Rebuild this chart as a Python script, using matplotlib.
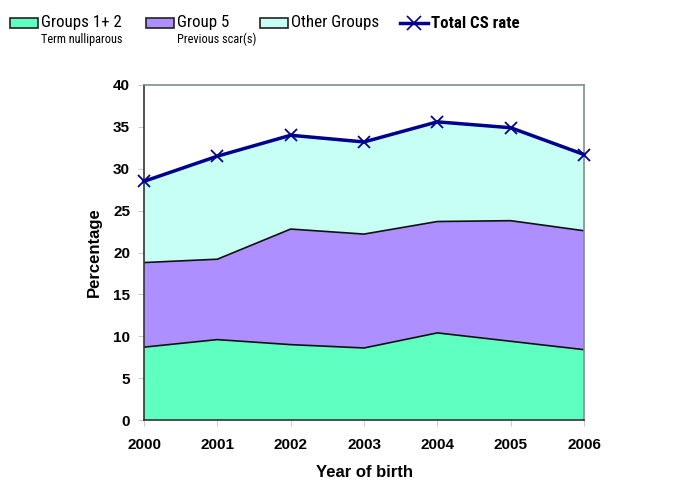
import matplotlib
matplotlib.use("Agg")
import matplotlib.pyplot as plt
from matplotlib.patches import Rectangle
from matplotlib.lines import Line2D
import numpy as np

plt.rcParams['font.family'] = ['Liberation Sans', 'DejaVu Sans']
NARROW = ['Roboto Condensed', 'Roboto', 'Liberation Sans', 'DejaVu Sans']

years = [2000, 2001, 2002, 2003, 2004, 2005, 2006]
groups_1_2 = [8.7, 9.6, 9.0, 8.6, 10.4, 9.4, 8.4]
group5_top = [18.8, 19.2, 22.8, 22.2, 23.7, 23.8, 22.6]
total_cs = [28.5, 31.5, 34.0, 33.2, 35.6, 34.9, 31.7]

group5 = list(np.array(group5_top) - np.array(groups_1_2))
other = list(np.array(total_cs) - np.array(group5_top))

c_g12 = '#5effc0'
c_g5 = '#ae8fff'
c_oth = '#c8fff4'
c_line = '#00008f'

fig = plt.figure(figsize=(6.85, 4.87), dpi=100)
ax = fig.add_axes([144/685, 1-420/487, 440/685, 335/487])

ax.stackplot(years, groups_1_2, group5, other, colors=[c_g12, c_g5, c_oth], linewidth=0)
ax.plot(years, groups_1_2, color='#111111', lw=1.2)
ax.plot(years, group5_top, color='#111111', lw=1.2)
ax.plot(years, total_cs, color=c_line, lw=2.5, marker='x', markersize=9, markeredgewidth=1.3, clip_on=False, zorder=5)

ax.set_xlim(2000, 2006)
ax.set_ylim(0, 40)
ax.set_xticks(years)
ax.set_yticks(range(0, 41, 5))
ax.tick_params(axis='both', labelsize=11, length=4, color='#cccccc')
ax.tick_params(axis='x', pad=9)
ax.tick_params(axis='y', pad=6)
for lab in ax.get_xticklabels() + ax.get_yticklabels():
    lab.set_fontweight('bold')
ax.spines['top'].set_color('#7f8f8f')
ax.spines['right'].set_color('#7f8f8f')
ax.spines['left'].set_color('#333333')
ax.spines['bottom'].set_color('#333333')
for s in ax.spines.values():
    s.set_linewidth(1.2)
ax.set_ylabel('Percentage', fontsize=12, fontweight='bold', labelpad=8)
ax.set_xlabel('Year of birth', fontsize=12, fontweight='bold', labelpad=9)

# legend (figure coordinates in px)
W, H = 685, 487
def px(x, y):
    return x / W, 1 - y / H

legend_items = [
    (10, 'Groups 1+ 2', 'Term nulliparous', c_g12),
    (146, 'Group 5', 'Previous scar(s)', c_g5),
    (260, 'Other Groups', None, c_oth),
]
for x0, lab, sub, col in legend_items:
    fx, fy = px(x0, 28)
    fig.patches.append(Rectangle((fx, fy), 28/W, 10/H, transform=fig.transFigure,
                                 facecolor=col, edgecolor='#222222', lw=1.2))
    tx, ty = px(x0 + 31, 23)
    fig.text(tx, ty, lab, fontsize=12.2, va='center', ha='left', family=NARROW)
    if sub:
        sx, sy = px(x0 + 31, 39)
        fig.text(sx, sy, sub, fontsize=8.8, va='center', ha='left', family=NARROW)

lx0, ly = px(400, 23)
lx1, _ = px(428, 23)
fig.add_artist(Line2D([lx0, lx1], [ly, ly], transform=fig.transFigure, color=c_line, lw=2.5))
fig.add_artist(Line2D([(lx0 + lx1) / 2], [ly], transform=fig.transFigure, color=c_line,
                      marker='x', markersize=10, markeredgewidth=1.2, lw=0))
tx, _ = px(431, 23)
fig.text(tx, ly, 'Total CS rate', fontsize=12.2, fontweight='bold', va='center', ha='left', family=NARROW)

fig.savefig('out.png', dpi=100)
